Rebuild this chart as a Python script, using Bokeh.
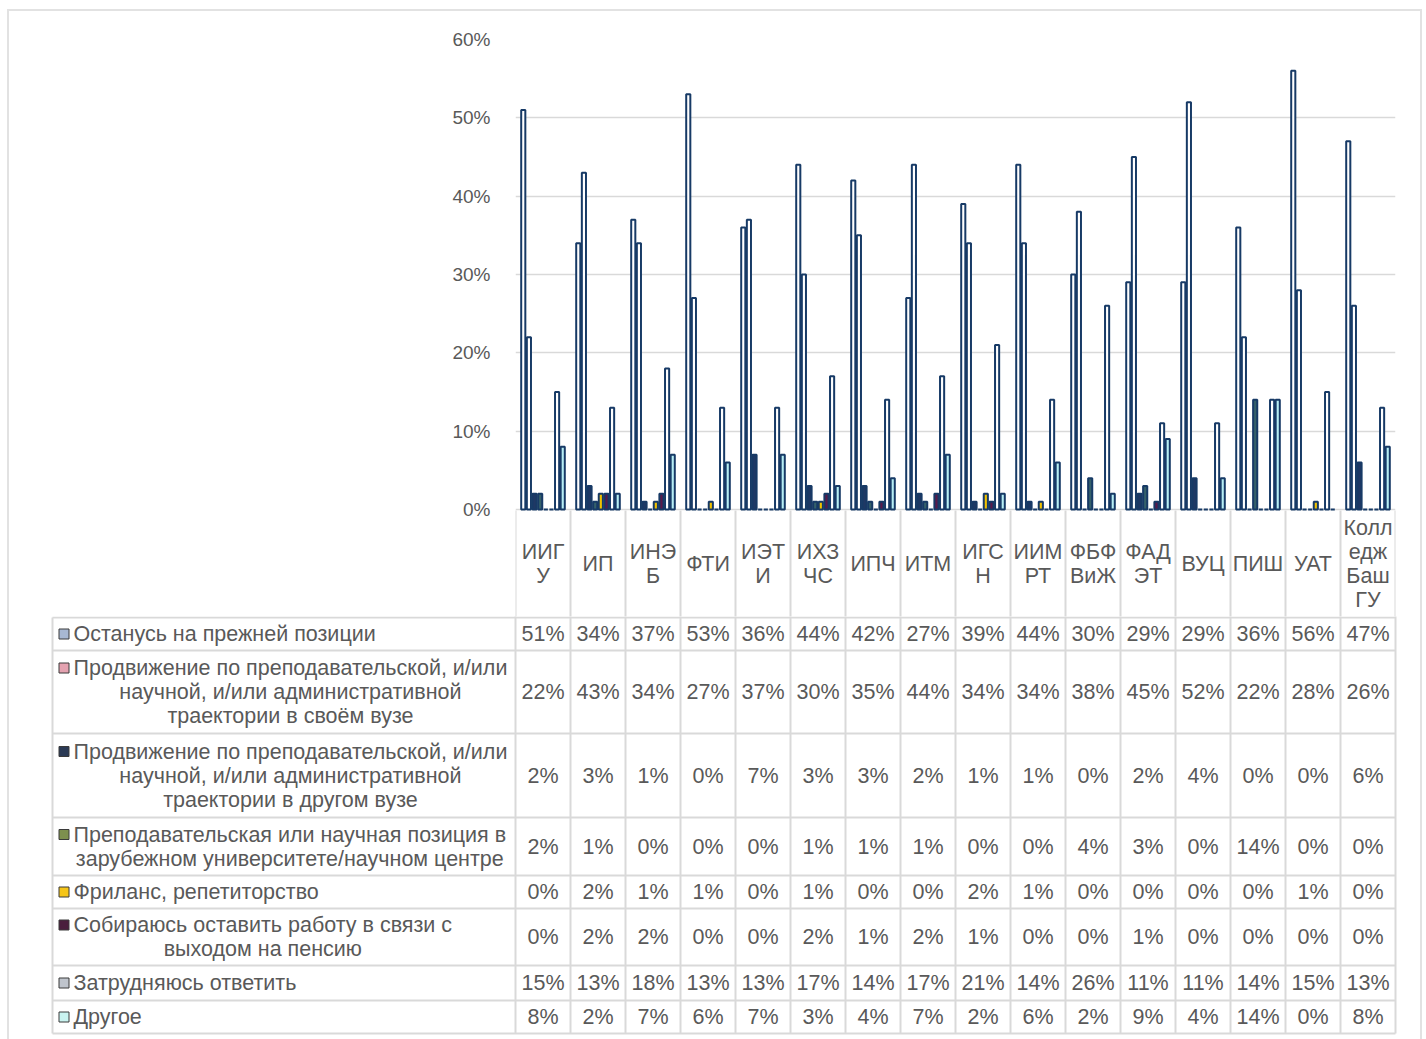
from bokeh.plotting import figure
from bokeh.layouts import column
from bokeh.models import Range1d, FixedTicker, PrintfTickFormatter
from bokeh.core.properties import value
from bokeh.embed import file_html
from bokeh.resources import INLINE

# ---------------- data ----------------
categories = ["ИИГУ", "ИП", "ИНЭБ", "ФТИ", "ИЭТИ", "ИХЗЧС", "ИПЧ", "ИТМ", "ИГСН",
              "ИИМРТ", "ФБФВиЖ", "ФАДЭТ", "ВУЦ", "ПИШ", "УАТ", "Колледж БашГУ"]
category_labels = ["ИИГ\nУ", "ИП", "ИНЭ\nБ", "ФТИ", "ИЭТ\nИ", "ИХЗ\nЧС", "ИПЧ", "ИТМ", "ИГС\nН",
                   "ИИМ\nРТ", "ФБФ\nВиЖ", "ФАД\nЭТ", "ВУЦ", "ПИШ", "УАТ", "Колл\nедж\nБаш\nГУ"]

series_labels = [
    "Останусь на прежней позиции",
    "Продвижение по преподавательской, и/или\nнаучной, и/или административной\nтраектории в своём вузе",
    "Продвижение по преподавательской, и/или\nнаучной, и/или административной\nтраектории в другом вузе",
    "Преподавательская или научная позиция в\nзарубежном университете/научном центре",
    "Фриланс, репетиторство",
    "Собираюсь оставить работу в связи с\nвыходом на пенсию",
    "Затрудняюсь ответить",
    "Другое",
]

stay_same = [51, 34, 37, 53, 36, 44, 42, 27, 39, 44, 30, 29, 29, 36, 56, 47]
promo_own = [22, 43, 34, 27, 37, 30, 35, 44, 34, 34, 38, 45, 52, 22, 28, 26]
promo_other = [2, 3, 1, 0, 7, 3, 3, 2, 1, 1, 0, 2, 4, 0, 0, 6]
abroad = [2, 1, 0, 0, 0, 1, 1, 1, 0, 0, 4, 3, 0, 14, 0, 0]
freelance = [0, 2, 1, 1, 0, 1, 0, 0, 2, 1, 0, 0, 0, 0, 1, 0]
retire = [0, 2, 2, 0, 0, 2, 1, 2, 1, 0, 0, 1, 0, 0, 0, 0]
hard_to_say = [15, 13, 18, 13, 13, 17, 14, 17, 21, 14, 26, 11, 11, 14, 15, 13]
other = [8, 2, 7, 6, 7, 3, 4, 7, 2, 6, 2, 9, 4, 14, 0, 8]
series_values = [stay_same, promo_own, promo_other, abroad, freelance, retire, hard_to_say, other]

y_ticks = [0, 10, 20, 30, 40, 50, 60]

# ---------------- style ----------------
bar_fill = ["#FFFFFF", "#FFFFFF", "#1F3864", "#35606A", "#F2C200", "#5A1A4A", "#FFFFFF", "#B8EEF4"]
icon_fill = ["#A8B8D2", "#E4A2B0", "#2B3A55", "#7D8F4E", "#F5C518", "#4A1F3D", "#BFC4CC", "#C9F3F0"]
BAR_LINE = "#173A66"
GRID = "#D9D9D9"
BORDER = "#E2E2E2"
TXT = "#595959"
FONT = "Liberation Sans"
FS = "21.5px"
LH = 1.0

W, H = 1426, 1039
COL0, COLW = 515, 55          # canvas x of first data column, column width
def ux(px):
    return (px - COL0) / COLW

# ---------------- chart (with category header) ----------------
TOP, ZERO, PX_PER = 39, 509, 470 / 60
def uy(py):
    return (ZERO - py) / PX_PER

HA = 616
pA = figure(width=W, height=HA, x_range=Range1d(0, 16),
            y_range=Range1d(uy(HA), 60),
            output_backend="svg", toolbar_location=None, x_axis_location=None,
            min_border_left=COL0, min_border_right=W - (COL0 + 16 * COLW),
            min_border_top=TOP, min_border_bottom=0, frame_align=False)
pA.outline_line_color = None
pA.border_fill_color = None
pA.background_fill_color = None
pA.xgrid.visible = False
pA.ygrid.grid_line_color = GRID
pA.ygrid.grid_line_width = 1.5
pA.yaxis.ticker = FixedTicker(ticks=y_ticks)
pA.yaxis.formatter = PrintfTickFormatter(format="%d%%")
pA.yaxis.axis_line_color = None
pA.yaxis.major_tick_line_color = None
pA.yaxis.minor_tick_line_color = None
pA.yaxis.major_label_text_font_size = "19px"
pA.yaxis.major_label_text_color = TXT
pA.yaxis.major_label_text_font = FONT
pA.yaxis.major_label_standoff = 19

pitch, bw = 0.1025, 0.075
for k, vals in enumerate(series_values):
    xs = [i + 0.5 + (k - 3.5) * pitch for i in range(len(categories))]
    pA.vbar(x=xs, top=vals, bottom=0, width=bw, fill_color=bar_fill[k],
            line_color=BAR_LINE, line_width=2)

# category header cells
pA.segment(x0=list(range(17)), x1=list(range(17)), y0=[uy(510)] * 17, y1=[uy(HA + 2)] * 17,
           line_color=GRID, line_width=2)
pA.text(x=[i + 0.5 for i in range(len(categories))], y=[uy(563)] * len(categories),
        text=category_labels, anchor="center", text_align="center", text_baseline="middle",
        text_font=value(FONT), text_font_size=FS, text_color=TXT, text_line_height=LH)

# ---------------- data table ----------------
HB = H - HA
pB = figure(width=W, height=HB, x_range=Range1d(ux(0), ux(W)), y_range=Range1d(H, HA),
            output_backend="svg", toolbar_location=None, x_axis_location=None,
            y_axis_location=None, min_border=0, frame_align=False)
pB.outline_line_color = None
pB.border_fill_color = None
pB.background_fill_color = None
pB.grid.visible = False

row_edges = [617, 650, 733, 817, 875, 908, 965, 1000, 1033]
left_edge = ux(52)
pB.segment(x0=[left_edge] * len(row_edges), x1=[16] * len(row_edges), y0=row_edges, y1=row_edges,
           line_color=GRID, line_width=2)
pB.segment(x0=[left_edge], x1=[left_edge], y0=[617], y1=[1033], line_color=GRID, line_width=2)
pB.segment(x0=list(range(17)), x1=list(range(17)), y0=[HA - 2] * 17, y1=[1033] * 17,
           line_color=GRID, line_width=2)

row_centers = [(row_edges[k] + row_edges[k + 1]) / 2 for k in range(8)]

# values
for k, vals in enumerate(series_values):
    pB.text(x=[i + 0.5 for i in range(len(vals))], y=[row_centers[k]] * len(vals),
            text=[f"{v}%" for v in vals], text_align="center", text_baseline="middle",
            text_font=value(FONT), text_font_size=FS, text_color=TXT)

# row labels and legend keys
nlines = [s.count("\n") + 1 for s in series_labels]
pB.text(x=[ux(73)] * 8, y=row_centers, text=series_labels,
        anchor="center_left", text_align="center", text_baseline="middle",
        text_font=value(FONT), text_font_size=FS, text_color=TXT, text_line_height=LH)
pB.rect(x=[ux(63.5)] * 8, y=[row_centers[k] - (nlines[k] - 1) * 12 for k in range(8)],
        width=10, height=10, width_units="screen", height_units="screen",
        fill_color=icon_fill, line_color="#3A3A3A", line_width=1)

# light outer frame of the whole chart area (CSS background behind transparent canvases)
g = f"linear-gradient({BORDER},{BORDER})"
frame_styles = {
    "background-color": "white",
    "background-image": ", ".join([g, g, g]),
    "background-position": "7px 9px, 7px 9px, 1420px 9px",
    "background-size": "1414px 2px, 2px 1100px, 2px 1100px",
    "background-repeat": "no-repeat",
}

layout = column(pA, pB, spacing=0, styles=frame_styles)
open("out.html", "w").write(file_html(layout, INLINE))
